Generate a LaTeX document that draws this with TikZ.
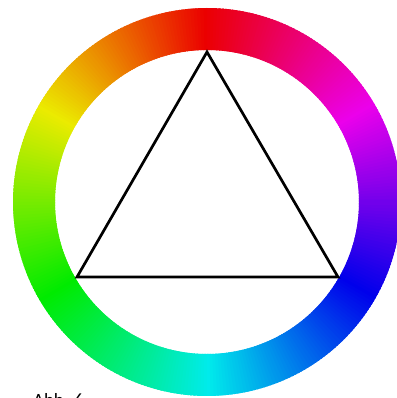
\documentclass[tikz,border=0pt]{standalone}
\usepackage{fontspec}
\setmainfont{Carlito}
\begin{document}
\begin{tikzpicture}[x=0.03cm,y=0.03cm,
  triline/.style={line width=2.3pt, line join=miter},
  captext/.style={anchor=base west, inner sep=0pt, font=\fontsize{16}{18}\selectfont}]
\useasboundingbox (0,0) rectangle (396,398);
\begin{scope}[shift={(207,196)}]
  \foreach \a in {0,...,359}{
    \pgfmathtruncatemacro{\h}{mod(\a+270,360)}
    \definecolor{seg}{Hsb}{\h,1,0.92}
    \fill[seg] (\a:194) arc[start angle=\a, end angle=\a+1.6, radius=194]
      -- (\a+1.6:152) arc[start angle=\a+1.6, end angle=\a, radius=152] -- cycle;
  }
\end{scope}
\coordinate (T) at (207,346);
\coordinate (L) at (77,121);
\coordinate (R) at (338,121);
\draw[triline] (T) -- (L) -- (R) -- cycle;
\node[captext] (cap) at (33,-8) {Abb. 6};
\end{tikzpicture}
\end{document}
